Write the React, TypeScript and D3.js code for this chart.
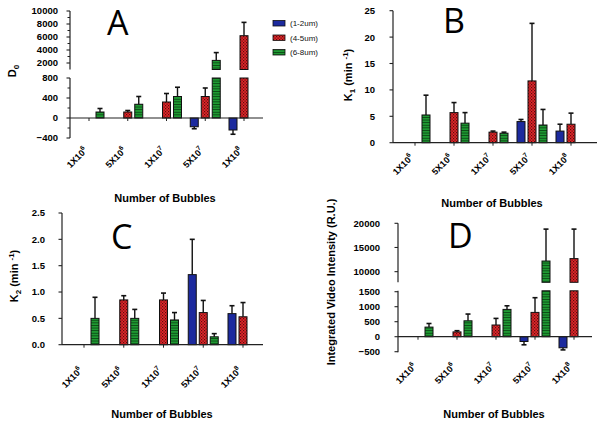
import React from "react";
import * as d3 from "d3";

// ---------- data ----------
const catBase = ["1X10", "5X10", "1X10", "5X10", "1X10"];
const catExp = ["6", "6", "7", "7", "8"];
const seriesNames = ["(1-2um)", "(4-5um)", "(6-8um)"];

// Panel A: D0
const d0Small = [null, null, null, -175, -240];
const d0SmallErr = [null, null, null, 40, 85];
const d0Medium = [null, 120, 320, 430, 6200];
const d0MediumErr = [null, 30, 170, 170, 2050];
const d0Large = [120, 275, 430, 2400, null];
const d0LargeErr = [70, 155, 185, 1200, null];
const d0TicksLower = [-400, 0, 400, 800];
const d0TicksUpper = [2000, 4000, 6000, 8000, 10000];

// Panel B: K1
const k1Small = [null, null, null, 4.0, 2.2];
const k1SmallErr = [null, null, null, 0.4, 1.3];
const k1Medium = [null, 5.7, 2.0, 11.7, 3.5];
const k1MediumErr = [null, 1.9, 0.2, 10.9, 2.1];
const k1Large = [5.25, 3.7, 1.8, 3.35, null];
const k1LargeErr = [3.75, 2.0, 0.2, 2.95, null];
const k1Ticks = [0, 5, 10, 15, 20, 25];

// Panel C: K2
const k2Small = [null, null, null, 1.33, 0.59];
const k2SmallErr = [null, null, null, 0.67, 0.15];
const k2Medium = [null, 0.85, 0.85, 0.61, 0.53];
const k2MediumErr = [null, 0.08, 0.13, 0.23, 0.27];
const k2Large = [0.5, 0.5, 0.47, 0.15, null];
const k2LargeErr = [0.4, 0.17, 0.14, 0.06, null];
const k2Ticks = [0, 0.5, 1.0, 1.5, 2.0, 2.5];

// Panel D: Integrated video intensity
const ivSmall = [null, null, null, -160, -370];
const ivSmallErr = [null, null, null, 110, 70];
const ivMedium = [null, 160, 390, 810, 12700];
const ivMediumErr = [null, 40, 220, 490, 6100];
const ivLarge = [320, 530, 910, 12200, null];
const ivLargeErr = [120, 225, 120, 6600, null];
const ivTicksLower = [-500, 0, 500, 1000, 1500];
const ivTicksUpper = [10000, 15000, 20000];

// ---------- drawing ----------
const FONT = "'Liberation Sans', Arial, sans-serif";
const fills = ["#1c2a9e", "url(#redP)", "url(#greenP)"];

type Seg = { domain: [number, number]; range: [number, number]; ticks: number[]; minor?: number[] };

function Panel(props: any) {
  const { segs, xFirst, xLast, axisX, axisEnd, series, errs, fmt, labelGap, labelY, letter, letterX, letterY, titleX, titleY, ylabel, ylabelX, ylabelY } = props;
  const scales = (segs as Seg[]).map((s) => d3.scaleLinear().domain(s.domain).range(s.range));
  const x = d3.scalePoint<number>().domain(d3.range(5)).range([xFirst, xLast]);
  const zeroSeg = (segs as Seg[]).findIndex((s) => s.domain[0] <= 0 && s.domain[1] >= 0);
  const y0 = scales[zeroSeg](0);
  const barW = 8;
  const offs = [-11, 0, 11];
  const els: any[] = [];

  series.forEach((vals: (number | null)[], si: number) => {
    vals.forEach((v, ci) => {
      if (v == null) return;
      const lo = Math.min(0, v), hi = Math.max(0, v);
      const cx = (x(ci) as number) + offs[si];
      (segs as Seg[]).forEach((s, k) => {
        const a = Math.max(lo, s.domain[0]), b = Math.min(hi, s.domain[1]);
        if (b > a) {
          const sc = scales[k];
          els.push(
            <rect key={`b${si}-${ci}-${k}`} x={cx - barW / 2} y={sc(b)} width={barW} height={sc(a) - sc(b)}
              fill={fills[si]} stroke="#111" strokeWidth={1} />
          );
        }
      });
      const e = errs[si][ci];
      if (e == null) return;
      const ve = v >= 0 ? v + e : v - e;
      const elo = Math.min(v, ve), ehi = Math.max(v, ve);
      (segs as Seg[]).forEach((s, k) => {
        const a = Math.max(elo, s.domain[0]), b = Math.min(ehi, s.domain[1]);
        const sc = scales[k];
        if (b > a) {
          els.push(<line key={`e${si}-${ci}-${k}`} x1={cx} x2={cx} y1={sc(a)} y2={sc(b)} stroke="#111" strokeWidth={1.4} />);
        }
        if (ve >= s.domain[0] && ve <= s.domain[1]) {
          els.push(<line key={`c${si}-${ci}-${k}`} x1={cx - 2.5} x2={cx + 2.5} y1={sc(ve)} y2={sc(ve)} stroke="#111" strokeWidth={1.6} />);
        }
      });
    });
  });

  const axisEls: any[] = [];
  (segs as Seg[]).forEach((s, k) => {
    const sc = scales[k];
    axisEls.push(<line key={`ya${k}`} x1={axisX} x2={axisX} y1={s.range[0]} y2={s.range[1]} stroke="#222" strokeWidth={1.2} />);
    s.ticks.forEach((t) => {
      axisEls.push(<line key={`yt${k}-${t}`} x1={axisX - 3.5} x2={axisX} y1={sc(t)} y2={sc(t)} stroke="#222" strokeWidth={1.1} />);
      axisEls.push(
        <text key={`yl${k}-${t}`} x={axisX - labelGap} y={sc(t) + 3.4} textAnchor="end" fontSize={9.5} fontWeight="bold" fontFamily={FONT} fill="#000">{fmt(t)}</text>
      );
    });
    (s.minor || []).forEach((t) => {
      axisEls.push(<line key={`ym${k}-${t}`} x1={axisX - 2.5} x2={axisX} y1={sc(t)} y2={sc(t)} stroke="#222" strokeWidth={1} />);
    });
  });
  axisEls.push(<line key="xa" x1={axisX} x2={axisEnd} y1={y0} y2={y0} stroke="#222" strokeWidth={1.2} />);
  d3.range(5).forEach((ci) => {
    const cx = x(ci) as number;
    axisEls.push(<line key={`xt${ci}`} x1={cx} x2={cx} y1={y0} y2={y0 + 3} stroke="#222" strokeWidth={1} />);
    axisEls.push(
      <text key={`xl${ci}`} transform={`translate(${cx - 1},${labelY}) rotate(-45)`} textAnchor="end" fontSize={9} fontWeight="bold" fontFamily={FONT} fill="#000">
        {catBase[ci]}
        <tspan fontSize={6.5} dy={-4}>{catExp[ci]}</tspan>
      </text>
    );
  });

  return (
    <g>
      {els}
      {axisEls}
      <text x={letterX} y={letterY} fontSize={34} fontFamily="'Open Sans', 'Liberation Sans', sans-serif" fill="#000">{letter}</text>
      <text x={titleX} y={titleY} textAnchor="middle" fontSize={11} fontWeight="bold" fontFamily={FONT} fill="#000">Number of Bubbles</text>
      <text transform={`translate(${ylabelX},${ylabelY}) rotate(-90)`} textAnchor="middle" fontSize={11} fontWeight="bold" fontFamily={FONT} fill="#000">{ylabel}</text>
    </g>
  );
}

export default function App() {
  const intFmt = d3.format("d");
  const decFmt = d3.format(".1f");
  const kLabel = (n: string) => (
    <>K<tspan fontSize={8} dy={3}>{n}</tspan><tspan dy={-3}> (min </tspan><tspan fontSize={8} dy={-4}>-1</tspan><tspan dy={4}>)</tspan></>
  );
  return (
    <svg width={600} height={423} style={{ position: "absolute", left: 0, top: 0, background: "#fff" }}>
      <defs>
        <pattern id="redP" width={3} height={3} patternUnits="userSpaceOnUse">
          <rect width={3} height={3} fill="#e3262a" />
          <rect x={0} y={0} width={1.2} height={1.2} fill="#5c0c0c" />
          <rect x={1.5} y={1.5} width={1.2} height={1.2} fill="#5c0c0c" />
        </pattern>
        <pattern id="greenP" width={3} height={2.6} patternUnits="userSpaceOnUse">
          <rect width={3} height={2.6} fill="#1f9a33" />
          <rect x={0} y={0} width={3} height={0.9} fill="#0b4a15" />
        </pattern>
      </defs>

      {/* A */}
      <Panel
        segs={[
          { domain: [-400, 800], range: [138, 78], ticks: d0TicksLower, minor: [-200, 200, 600] },
          { domain: [1000, 10000], range: [69.5, 11], ticks: d0TicksUpper, minor: [3000, 5000, 7000, 9000] },
        ]}
        xFirst={89} xLast={244} axisX={70} axisEnd={263}
        series={[d0Small, d0Medium, d0Large]} errs={[d0SmallErr, d0MediumErr, d0LargeErr]}
        fmt={intFmt} labelGap={12} labelY={151} letter="A" letterX={107} letterY={35}
        titleX={165} titleY={202}
        ylabel={<>D<tspan fontSize={8} dy={3}>0</tspan></>} ylabelX={16} ylabelY={71}
      />
      {/* B */}
      <Panel
        segs={[{ domain: [0, 25], range: [142.7, 10.7], ticks: k1Ticks }]}
        xFirst={415} xLast={571} axisX={393} axisEnd={597}
        series={[k1Small, k1Medium, k1Large]} errs={[k1SmallErr, k1MediumErr, k1LargeErr]}
        fmt={intFmt} labelGap={18} labelY={158} letter="B" letterX={443} letterY={33}
        titleX={492} titleY={207}
        ylabel={kLabel("1")} ylabelX={352} ylabelY={75}
      />
      {/* C */}
      <Panel
        segs={[{ domain: [0, 2.5], range: [344.7, 213], ticks: k2Ticks }]}
        xFirst={84} xLast={243} axisX={62} axisEnd={263}
        series={[k2Small, k2Medium, k2Large]} errs={[k2SmallErr, k2MediumErr, k2LargeErr]}
        fmt={decFmt} labelGap={17} labelY={371} letter="C" letterX={111} letterY={249}
        titleX={162} titleY={418}
        ylabel={kLabel("2")} ylabelX={18} ylabelY={276}
      />
      {/* D */}
      <Panel
        segs={[
          { domain: [-520, 1530], range: [352.3, 290.8], ticks: ivTicksLower },
          { domain: [7800, 20000], range: [282.3, 223.3], ticks: ivTicksUpper },
        ]}
        xFirst={418} xLast={574} axisX={398} axisEnd={592}
        series={[ivSmall, ivMedium, ivLarge]} errs={[ivSmallErr, ivMediumErr, ivLargeErr]}
        fmt={intFmt} labelGap={18} labelY={367} letter="D" letterX={448} letterY={248}
        titleX={494} titleY={418}
        ylabel="Integrated Video Intensity (R.U.)" ylabelX={335} ylabelY={282}
      />

      {/* Legend */}
      {seriesNames.map((n, i) => (
        <g key={n}>
          <rect x={273} y={20.5 + i * 14.5} width={12} height={5.5} fill={fills[i]} stroke="#111" strokeWidth={0.8} />
          <text x={290} y={26 + i * 14.5} fontSize={8} fontFamily={FONT} fill="#111">{n}</text>
        </g>
      ))}
    </svg>
  );
}
